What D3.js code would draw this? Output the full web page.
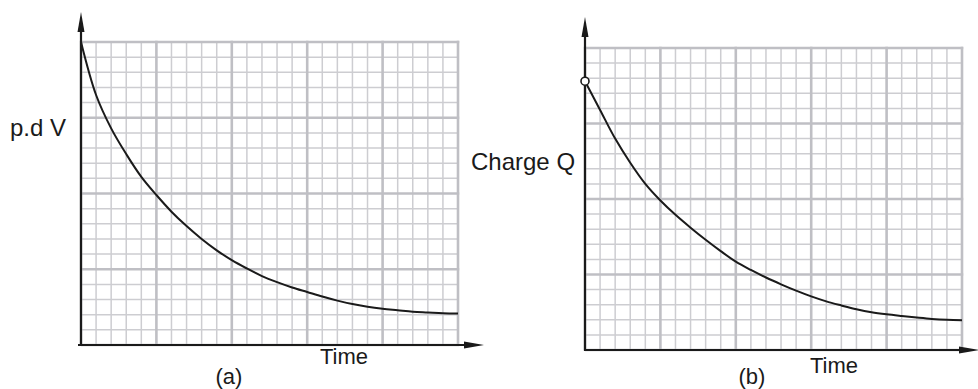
<!DOCTYPE html>
<html>
<head>
<meta charset="utf-8">
<script src="https://cdn.jsdelivr.net/npm/d3@7"></script>
<style>
  html, body { margin: 0; padding: 0; background: #fff; }
  svg { display: block; }
  text { font-family: "Liberation Sans", Arial, Helvetica, sans-serif; fill: #1a1a1a; }
</style>
</head>
<body>
<svg id="chart" width="978" height="389"></svg>
<script>
// ---- Data (grid units: time 0..25 minor divisions, value 0..20 minor divisions) ----
const timeSteps = d3.range(0, 26);
const pdValues = [20.0, 16.5, 14.3, 12.6, 11.1, 9.9, 8.8, 7.85, 7.0, 6.25, 5.6, 5.05, 4.55, 4.15, 3.8, 3.5, 3.2, 2.93, 2.7, 2.53, 2.4, 2.3, 2.2, 2.15, 2.1, 2.08];
const chargeValues = [17.8, 15.9, 14.0, 12.4, 11.0, 9.9, 8.95, 8.1, 7.3, 6.55, 5.85, 5.3, 4.8, 4.35, 3.93, 3.55, 3.22, 2.95, 2.7, 2.5, 2.36, 2.25, 2.15, 2.06, 2.0, 1.97];
const panelLabels = ["(a)", "(b)"];
const yAxisLabels = ["p.d V", "Charge Q"];
const xAxisLabels = ["Time", "Time"];
const gridX = [0, 25];
const gridY = [0, 20];

const svg = d3.select("#chart");

const panels = [
  { values: pdValues, yLabel: yAxisLabels[0], xLabel: xAxisLabels[0], tag: panelLabels[0],
    xr: [81, 458], yr: [345, 42], yTip: 12, xTip: 484, xStart: 78,
    yLabelPos: [10, 136], xLabelPos: [344, 364], tagPos: [229, 384], marker: false },
  { values: chargeValues, yLabel: yAxisLabels[1], xLabel: xAxisLabels[1], tag: panelLabels[1],
    xr: [585, 962], yr: [350, 48], yTip: 17, xTip: 979, xStart: 585,
    yLabelPos: [471, 170], xLabelPos: [834, 373], tagPos: [752, 384], marker: true }
];

panels.forEach(p => {
  const x = d3.scaleLinear().domain(gridX).range(p.xr);
  const y = d3.scaleLinear().domain(gridY).range(p.yr);
  const g = svg.append("g");

  const xs = d3.range(gridX[0], gridX[1] + 1);
  const ys = d3.range(gridY[0], gridY[1] + 1);
  const minorX = xs.filter(v => v % 5 !== 0), majorX = xs.filter(v => v % 5 === 0);
  const minorY = ys.filter(v => v % 5 !== 0), majorY = ys.filter(v => v % 5 === 0);

  g.selectAll(".mx").data(minorX).join("line")
    .attr("x1", d => x(d)).attr("x2", d => x(d))
    .attr("y1", y(gridY[0])).attr("y2", y(gridY[1]))
    .attr("stroke", "#cdcdd1").attr("stroke-width", 1.5);
  g.selectAll(".my").data(minorY).join("line")
    .attr("y1", d => y(d)).attr("y2", d => y(d))
    .attr("x1", x(gridX[0])).attr("x2", x(gridX[1]))
    .attr("stroke", "#cdcdd1").attr("stroke-width", 1.5);
  g.selectAll(".Mx").data(majorX).join("line")
    .attr("x1", d => x(d)).attr("x2", d => x(d))
    .attr("y1", y(gridY[0])).attr("y2", y(gridY[1]) - 1.2)
    .attr("stroke", "#bfbfc4").attr("stroke-width", 2.6);
  g.selectAll(".My").data(majorY).join("line")
    .attr("y1", d => y(d)).attr("y2", d => y(d))
    .attr("x1", x(gridX[0])).attr("x2", x(gridX[1]) + 1.2)
    .attr("stroke", "#bfbfc4").attr("stroke-width", 2.6);

  // curve
  const line = d3.line().x((d, i) => x(timeSteps[i])).y(d => y(d)).curve(d3.curveCatmullRom.alpha(0.5));
  g.append("path").datum(p.values).attr("d", line)
    .attr("fill", "none").attr("stroke", "#1a1a1a").attr("stroke-width", 2);

  // axes
  const x0 = x(0), y0 = y(0);
  g.append("line").attr("x1", x0).attr("x2", x0).attr("y1", y0 + 1).attr("y2", p.yTip + 12)
    .attr("stroke", "#1a1a1a").attr("stroke-width", 2.2);
  g.append("path")
    .attr("d", `M${x0},${p.yTip} L${x0 - 3.5},${p.yTip + 20} L${x0 + 3.5},${p.yTip + 20} Z`)
    .attr("fill", "#1a1a1a");
  g.append("line").attr("x1", p.xStart).attr("x2", p.xTip - 12).attr("y1", y0).attr("y2", y0)
    .attr("stroke", "#1a1a1a").attr("stroke-width", 2.2);
  g.append("path")
    .attr("d", `M${p.xTip},${y0} L${p.xTip - 20},${y0 - 3.5} L${p.xTip - 20},${y0 + 3.5} Z`)
    .attr("fill", "#1a1a1a");

  if (p.marker) {
    g.append("circle").attr("cx", x(0)).attr("cy", y(p.values[0])).attr("r", 4)
      .attr("fill", "#fff").attr("stroke", "#1a1a1a").attr("stroke-width", 1.6);
  }

  // labels
  g.append("text").attr("x", p.yLabelPos[0]).attr("y", p.yLabelPos[1])
    .attr("font-size", 24).text(p.yLabel);
  g.append("text").attr("x", p.xLabelPos[0]).attr("y", p.xLabelPos[1])
    .attr("font-size", 22).attr("text-anchor", "middle").text(p.xLabel);
  g.append("text").attr("x", p.tagPos[0]).attr("y", p.tagPos[1])
    .attr("font-size", 22).attr("text-anchor", "middle").text(p.tag);
});
</script>
</body>
</html>
